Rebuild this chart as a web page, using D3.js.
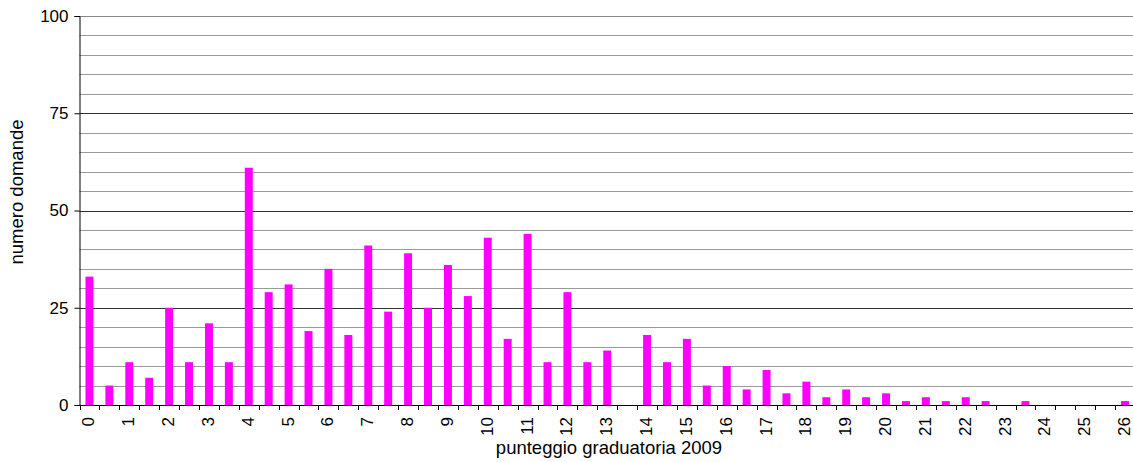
<!DOCTYPE html>
<html>
<head>
<meta charset="utf-8">
<script src="https://cdn.jsdelivr.net/npm/d3@7"></script>
<style>
body { margin: 0; background: white; }
text { font-family: "Liberation Sans", Arial, sans-serif; }
</style>
</head>
<body>
<div id="canvas"></div>
<script>
var w = 1133;
var h = 462;

// punteggio categories: 0, 0.5, 1, ... 26
var scores = [0, 0.5, 1, 1.5, 2, 2.5, 3, 3.5, 4, 4.5, 5, 5.5, 6, 6.5, 7, 7.5, 8, 8.5, 9, 9.5,
    10, 10.5, 11, 11.5, 12, 12.5, 13, 13.5, 14, 14.5, 15, 15.5, 16, 16.5, 17, 17.5, 18, 18.5,
    19, 19.5, 20, 20.5, 21, 21.5, 22, 22.5, 23, 23.5, 24, 24.5, 25, 25.5, 26];
var counts = [33, 5, 11, 7, 25, 11, 21, 11, 61, 29, 31, 19, 35, 18, 41, 24, 39, 25, 36, 28,
    43, 17, 44, 11, 29, 11, 14, 0, 18, 11, 17, 5, 10, 4, 9, 3, 6, 2,
    4, 2, 3, 1, 2, 1, 2, 1, 0, 1, 0, 0, 0, 0, 1];
var yTicks = [0, 25, 50, 75, 100];
var yMinor = d3.range(5, 100, 5);

var data = scores.map(function(s, i) { return { score: s, count: counts[i] }; });

var pLeft = 79.5, pRight = 1135, pTop = 16, pBottom = 405;

var canvas = d3.select("#canvas")
    .append("svg")
    .attr("width", w)
    .attr("height", h)
    .style("background-color", "white");

var xScale = d3.scaleBand()
    .domain(scores)
    .range([pLeft, pRight])
    .paddingInner(0.6)
    .paddingOuter(0.3);

var yScale = d3.scaleLinear()
    .domain([0, 100])
    .range([pBottom, pTop]);

// gridlines
canvas.append("g")
    .selectAll("line")
    .data(yMinor.filter(function(d) { return d % 25 !== 0; }))
    .join("line")
    .attr("x1", pLeft).attr("x2", w)
    .attr("y1", function(d) { return Math.round(yScale(d)) + 0.5; })
    .attr("y2", function(d) { return Math.round(yScale(d)) + 0.5; })
    .attr("stroke", "#9a9a9a")
    .attr("stroke-width", 1);

canvas.append("g")
    .selectAll("line")
    .data(yTicks.slice(1))
    .join("line")
    .attr("x1", pLeft).attr("x2", w)
    .attr("y1", function(d) { return Math.round(yScale(d)) + 0.5; })
    .attr("y2", function(d) { return Math.round(yScale(d)) + 0.5; })
    .attr("stroke", function(d) { return d === 100 ? "#888" : "#333"; })
    .attr("stroke-width", 1);

// bars
canvas.append("g")
    .selectAll("rect")
    .data(data)
    .join("rect")
    .attr("x", function(d) { return xScale(d.score); })
    .attr("y", function(d) { return yScale(d.count); })
    .attr("width", xScale.bandwidth())
    .attr("height", function(d) { return yScale(0) - yScale(d.count); })
    .attr("fill", "#ff00ff");

// y axis
var yAxis = d3.axisLeft(yScale)
    .tickValues(yTicks)
    .tickSize(5)
    .tickPadding(6);

canvas.append("g")
    .attr("transform", "translate(" + pLeft + ",0)")
    .call(yAxis)
    .call(function(g) {
        g.select(".domain").attr("stroke", "#000");
        g.selectAll(".tick line").attr("stroke", "#000");
        g.selectAll(".tick text").attr("fill", "#000").style("font-size", "17px")
            .style("font-family", "'Liberation Sans', Arial, sans-serif");
    });

// x axis: boundary ticks between categories
var step = xScale.step();
var boundaries = d3.range(scores.length + 1);
canvas.append("g")
    .selectAll("line")
    .data(boundaries)
    .join("line")
    .attr("x1", function(i) { return Math.round(pLeft + i * step) + 0.5; })
    .attr("x2", function(i) { return Math.round(pLeft + i * step) + 0.5; })
    .attr("y1", pBottom)
    .attr("y2", pBottom + 5)
    .attr("stroke", "#000");

canvas.append("line")
    .attr("x1", pLeft).attr("x2", w)
    .attr("y1", pBottom + 0.5).attr("y2", pBottom + 0.5)
    .attr("stroke", "#000");

// integer labels, rotated
canvas.append("g")
    .selectAll("text")
    .data(scores.filter(function(s) { return s % 1 === 0; }))
    .join("text")
    .attr("transform", function(d) {
        return "translate(" + (xScale(d) + xScale.bandwidth() / 2 + 5) + "," + (pBottom + 12) + ") rotate(-90)";
    })
    .attr("text-anchor", "end")
    .style("font-size", "17px")
    .attr("fill", "#000")
    .text(function(d) { return d; });

// axis titles
canvas.append("text")
    .attr("x", 609)
    .attr("y", 454)
    .attr("text-anchor", "middle")
    .style("font-size", "18.5px")
    .attr("fill", "#000")
    .text("punteggio graduatoria 2009");

canvas.append("text")
    .attr("transform", "translate(23,192) rotate(-90)")
    .attr("text-anchor", "middle")
    .style("font-size", "18.5px")
    .attr("fill", "#000")
    .text("numero domande");
</script>
</body>
</html>
